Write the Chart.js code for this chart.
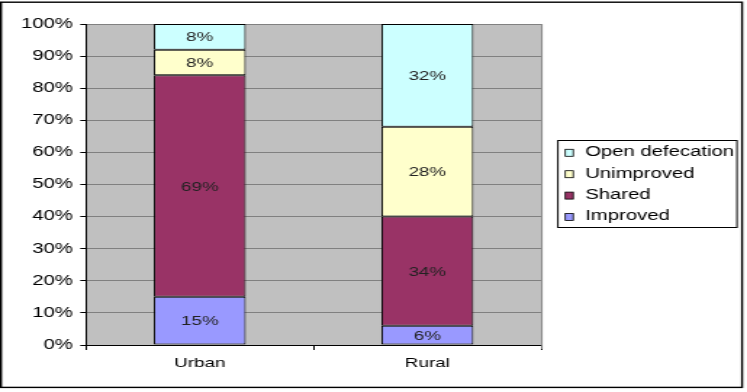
<!DOCTYPE html>
<html>
<head>
<meta charset="utf-8">
<script src="https://cdn.jsdelivr.net/npm/chart.js@4/dist/chart.umd.min.js"></script>
<style>
  html, body { margin: 0; padding: 0; background: #ffffff; overflow: hidden; }
  #wrap { width: 515px; height: 392px; transform: scaleX(1.4505); transform-origin: 0 0; }
</style>
</head>
<body>
<div id="wrap"><canvas id="c" width="515" height="392"></canvas></div>
<script>
const categories = ["Urban", "Rural"];
const improved = [15, 6];
const shared = [69, 34];
const unimproved = [8, 28];
const openDefecation = [8, 32];
const seriesNames = ["Improved", "Shared", "Unimproved", "Open defecation"];
const seriesColors = ["#9999FF", "#993366", "#FFFFCC", "#CCFFFF"];
const yTicks = [0, 10, 20, 30, 40, 50, 60, 70, 80, 90, 100];

const FONT = "'Liberation Sans', Arial, sans-serif";

const bgPlugin = {
  id: 'bg',
  beforeDraw(chart) {
    const ctx = chart.ctx, a = chart.chartArea;
    ctx.save();
    ctx.fillStyle = '#ffffff';
    ctx.fillRect(0, 0, chart.width, chart.height);
    ctx.fillStyle = '#C0C0C0';
    ctx.fillRect(a.left, a.top, a.right - a.left, a.bottom - a.top);
    ctx.restore();
  },
  afterDraw(chart) {
    const ctx = chart.ctx, a = chart.chartArea;
    ctx.save();
    ctx.strokeStyle = '#808080';
    ctx.lineWidth = 1;
    ctx.beginPath();
    ctx.moveTo(a.right + 0.5, a.top);
    ctx.lineTo(a.right + 0.5, a.bottom + 4);
    ctx.stroke();
    ctx.strokeStyle = '#000000';
    ctx.lineWidth = 1.4;
    ctx.strokeRect(0.7, 2.2, 510.9, 385.2);
    const lx = 384.1, ly = 140, lw = 123.5, lh = 87;
    ctx.lineWidth = 1;
    ctx.strokeRect(lx + 0.5, ly + 0.5, lw, lh);
    const rows = [151.8, 173.2, 194.6, 216];
    ctx.font = '14px ' + FONT;
    ctx.textBaseline = 'middle';
    ctx.textAlign = 'left';
    const order = chart.data.datasets.slice().reverse();
    order.forEach((ds, i) => {
      const cy = rows[i];
      ctx.fillStyle = ds.backgroundColor;
      ctx.fillRect(389.7, cy - 2.5, 5.5, 7);
      ctx.strokeStyle = '#000';
      ctx.lineWidth = 0.8;
      ctx.strokeRect(389.7, cy - 2.5, 5.5, 7);
      ctx.fillStyle = '#000';
      ctx.fillText(ds.label, 403.4, cy + 0.5);
    });
    ctx.restore();
  },
  afterDatasetsDraw(chart) {
    const ctx = chart.ctx;
    ctx.save();
    ctx.font = '13px ' + FONT;
    ctx.fillStyle = '#222';
    ctx.textAlign = 'center';
    ctx.textBaseline = 'middle';
    chart.data.datasets.forEach((ds, di) => {
      const meta = chart.getDatasetMeta(di);
      meta.data.forEach((el, i) => {
        const v = ds.data[i];
        ctx.fillText(v + '%', el.x, (el.y + el.base) / 2 + 1);
      });
    });
    ctx.restore();
  }
};

new Chart(document.getElementById('c'), {
  type: 'bar',
  data: {
    labels: categories,
    datasets: [
      { label: seriesNames[0], data: improved, backgroundColor: seriesColors[0] },
      { label: seriesNames[1], data: shared, backgroundColor: seriesColors[1] },
      { label: seriesNames[2], data: unimproved, backgroundColor: seriesColors[2] },
      { label: seriesNames[3], data: openDefecation, backgroundColor: seriesColors[3] }
    ].map(d => Object.assign(d, {
      borderColor: '#000000', borderWidth: 1, borderSkipped: false,
      barPercentage: 0.404, categoryPercentage: 1.0
    }))
  },
  options: {
    responsive: false,
    animation: false,
    devicePixelRatio: 1,
    layout: { padding: { left: 0, top: 24, right: 515 - 373.1, bottom: 0 } },
    plugins: { legend: { display: false }, tooltip: { enabled: false } },
    scales: {
      x: {
        stacked: true,
        afterFit(s) { s.height = 47; },
        grid: { offset: true, drawOnChartArea: false, tickLength: 5, tickColor: '#000', color: '#000' },
        border: { color: '#000', width: 1 },
        ticks: { color: '#000', font: { family: FONT, size: 13 }, padding: 6 }
      },
      y: {
        stacked: true,
        min: 0, max: 100,
        afterFit(s) { s.width = 59.3; },
        afterBuildTicks(s) { s.ticks = yTicks.map(v => ({ value: v })); },
        grid: { color: '#808080', tickLength: 4, tickColor: '#000' },
        border: { color: '#000', width: 1 },
        ticks: { color: '#000', font: { family: FONT, size: 14 }, padding: 5, callback: v => v + '%' }
      }
    }
  },
  plugins: [bgPlugin]
});
</script>
</body>
</html>
